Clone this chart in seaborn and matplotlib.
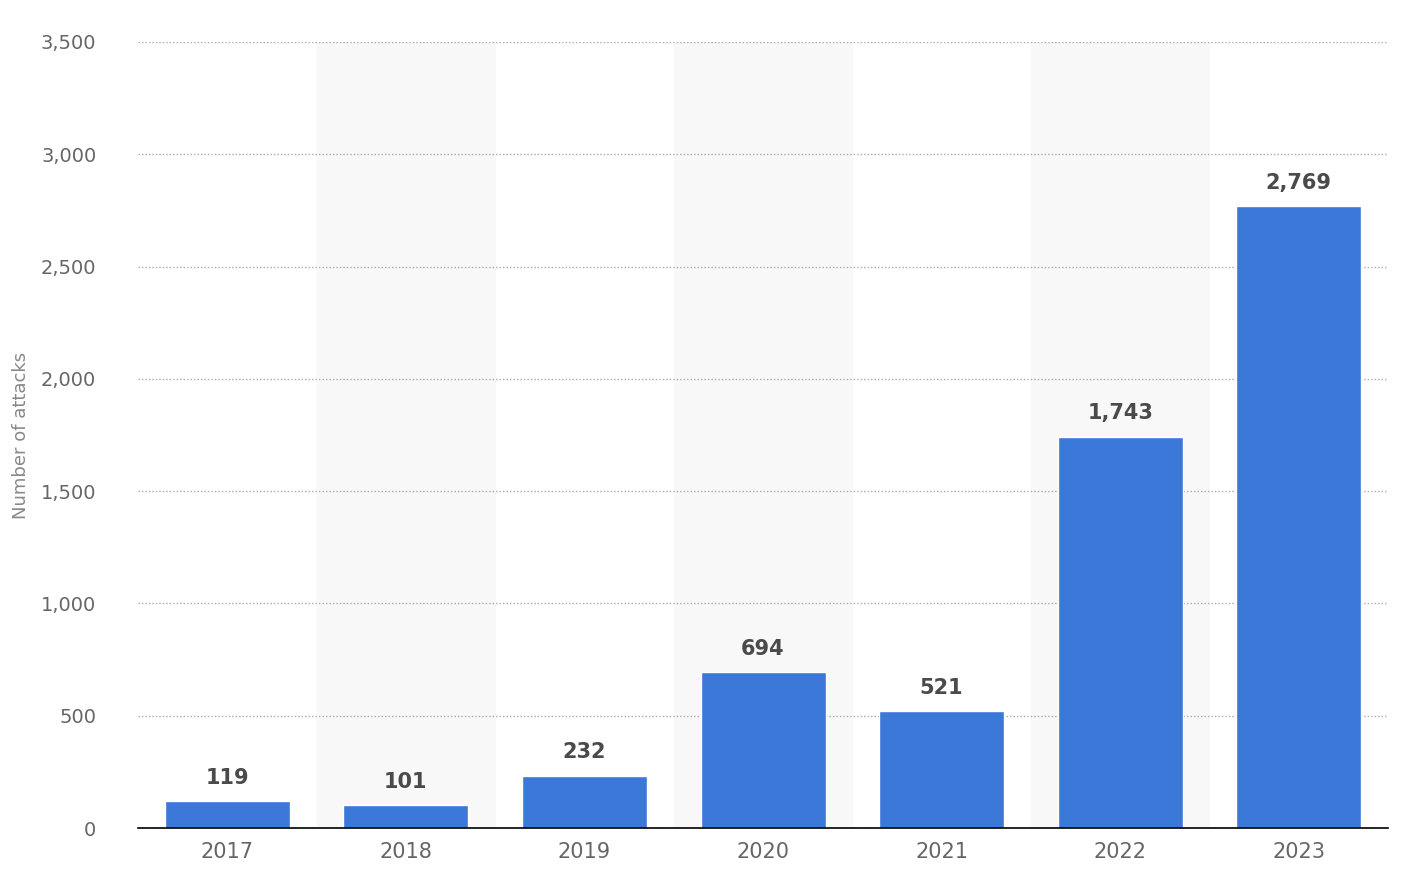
import matplotlib
matplotlib.use("Agg")
import matplotlib.pyplot as plt
import seaborn as sns
import pandas as pd

years = ["2017", "2018", "2019", "2020", "2021", "2022", "2023"]
attacks = [119, 101, 232, 694, 521, 1743, 2769]
yticks = [0, 500, 1000, 1500, 2000, 2500, 3000, 3500]

sns.set_style("white")
plt.rcParams['font.family'] = ['DejaVu Sans']

df = pd.DataFrame({"year": years, "attacks": attacks})
fig = plt.figure(figsize=(14.04, 8.92), dpi=100)
ax = fig.add_axes([138/1404, 64/892, 1250/1404, 786/892])

for i in range(len(years)):
    if i % 2 == 1:
        ax.axvspan(i - 0.5, i + 0.5, color="#f8f8f8", zorder=0)

sns.barplot(data=df, x="year", y="attacks", color="#3c78d8", saturation=1,
            width=0.7, ax=ax, zorder=3)

for i, v in enumerate(attacks):
    ax.text(i, v + 60, f"{v:,}", ha="center", va="bottom", fontsize=15,
            fontweight="bold", color="#4a4a4a", zorder=4)

ax.set_xlim(-0.5, len(years) - 0.5)
ax.set_ylim(0, 3500)
ax.set_yticks(yticks)
ax.set_yticklabels([f"{t:,}" for t in yticks], fontsize=14, color="#666666")
ax.tick_params(axis="x", labelsize=15, colors="#666666", length=0, pad=10)
ax.tick_params(axis="y", length=0, pad=30)
ax.set_xlabel("")
ax.set_ylabel("Number of attacks", fontsize=13, color="#888888", labelpad=8)
ax.yaxis.grid(True, linestyle=(0, (1, 1.5)), color="#aaaaaa", linewidth=1, zorder=1)
ax.set_axisbelow(False)
for s in ["top", "right", "left"]:
    ax.spines[s].set_visible(False)
ax.spines["bottom"].set_color("#000000")
ax.spines["bottom"].set_linewidth(1.2)
ax.spines["bottom"].set_zorder(5)

fig.savefig("out.png", dpi=100)
